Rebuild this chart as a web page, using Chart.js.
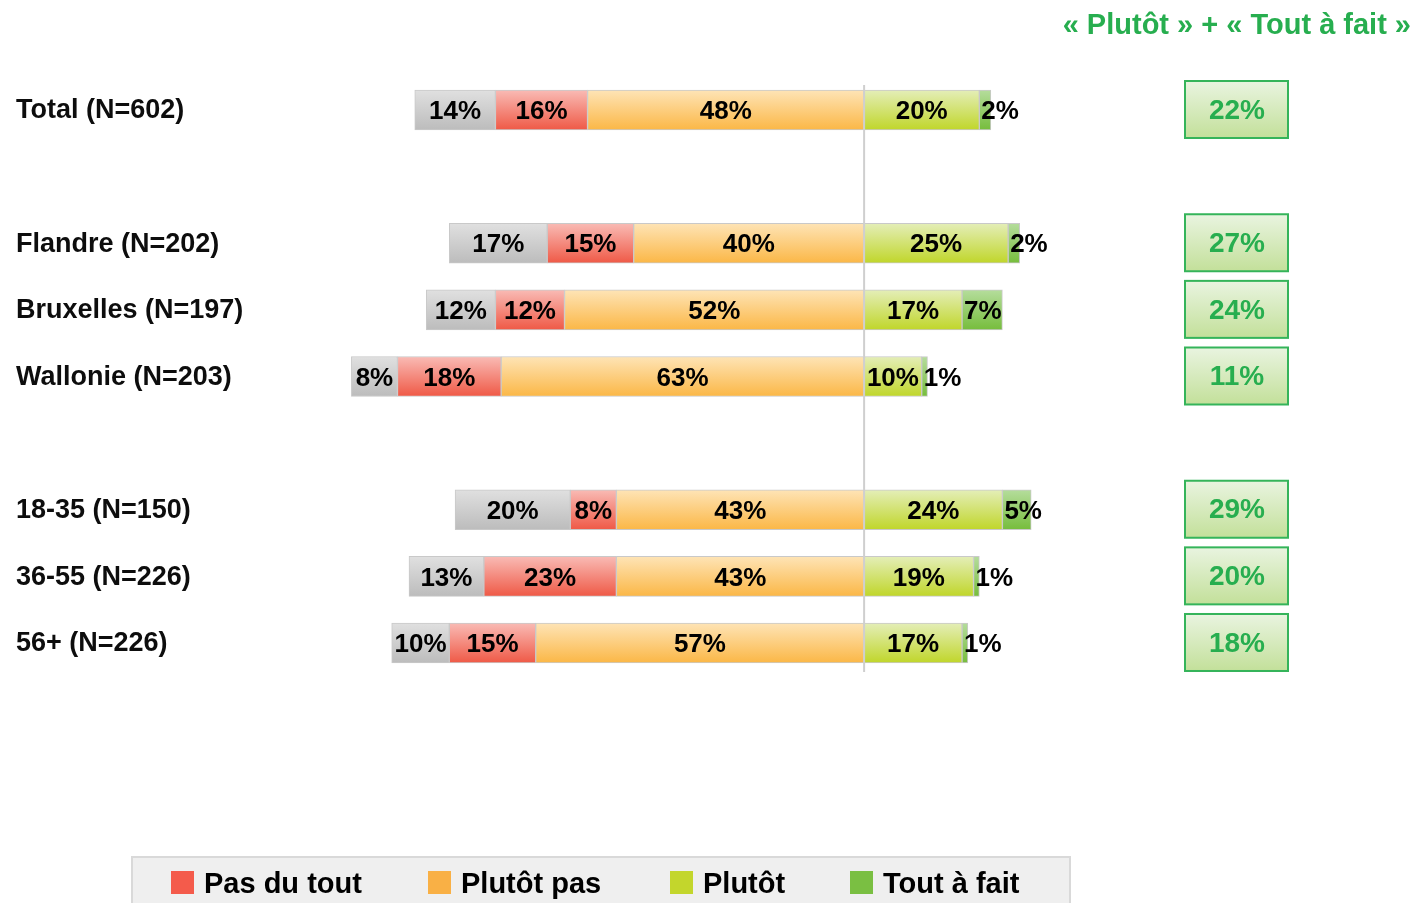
<!DOCTYPE html>
<html>
<head>
<meta charset="utf-8">
<script src="https://cdn.jsdelivr.net/npm/chart.js@4"></script>
<style>
  html, body { margin: 0; padding: 0; background: #fff; }
  #wrap { width: 1414px; height: 903px; }
</style>
</head>
<body>
<div id="wrap"><canvas id="chart" width="1414" height="903"></canvas></div>
<script>
// Rows (empty strings are spacer rows)
const categories = ['Total (N=602)', '', 'Flandre (N=202)', 'Bruxelles (N=197)', 'Wallonie (N=203)', '', '18-35 (N=150)', '36-55 (N=226)', '56+ (N=226)'];
const sansReponse = [14, null, 17, 12, 8, null, 20, 13, 10];
const pasDuTout = [16, null, 15, 12, 18, null, 8, 23, 15];
const plutotPas = [48, null, 40, 52, 63, null, 43, 43, 57];
const plutot = [20, null, 25, 17, 10, null, 24, 19, 17];
const toutAFait = [2, null, 2, 7, 1, null, 5, 1, 1];
const totalPositif = [22, null, 27, 24, 11, null, 29, 20, 18];
const headerText = '« Plutôt » + « Tout à fait »';
const legendLabels = ['Pas du tout', 'Plutôt pas', 'Plutôt', 'Tout à fait'];

const FONT = "'Liberation Sans', Arial, sans-serif";
const GREEN = '#27ae4f';

const neg = arr => arr.map(v => v == null ? null : -v);

// vertical gradient per bar, built from the y scale position
function barGradient(top, bottom) {
    return (ctx) => {
        const chart = ctx.chart;
        const y = chart.scales && chart.scales.y;
        if (!y || ctx.dataIndex == null) return bottom;
        const cy = y.getPixelForValue(ctx.dataIndex);
        if (!isFinite(cy)) return bottom;
        const g = chart.ctx.createLinearGradient(0, cy - 20, 0, cy + 20);
        g.addColorStop(0, top);
        g.addColorStop(1, bottom);
        return g;
    };
}

function makeSet(label, data, top, bottom) {
    return {
        label: label,
        data: data,
        backgroundColor: barGradient(top, bottom),
        borderColor: '#c9c9c9',
        borderWidth: 1,
        borderSkipped: false,
        barThickness: 40
    };
}

// center line + labels on the bars
const overlayPlugin = {
    id: 'overlay',
    afterDatasetsDraw(chart) {
        const ctx = chart.ctx;
        const x = chart.scales.x;
        const y = chart.scales.y;
        const cx = x.getPixelForValue(0);

        ctx.save();
        ctx.strokeStyle = '#cfcfcf';
        ctx.lineWidth = 2;
        ctx.beginPath();
        ctx.moveTo(cx, y.getPixelForValue(0) - 25);
        ctx.lineTo(cx, y.getPixelForValue(categories.length - 1) + 29);
        ctx.stroke();

        ctx.font = 'bold 26px ' + FONT;
        ctx.fillStyle = '#000';
        ctx.textBaseline = 'middle';
        ctx.textAlign = 'center';
        chart.data.datasets.forEach((ds, di) => {
            const meta = chart.getDatasetMeta(di);
            meta.data.forEach((bar, i) => {
                const v = ds.data[i];
                if (v == null) return;
                const txt = Math.abs(v) + '%';
                const w = ctx.measureText(txt).width;
                const left = Math.min(bar.x, bar.base);
                const right = Math.max(bar.x, bar.base);
                const tx = Math.max((left + right) / 2, left + 2 + w / 2);
                ctx.fillText(txt, tx, bar.y + 2);
            });
        });
        ctx.restore();
    },
    afterDraw(chart) {
        const ctx = chart.ctx;
        const y = chart.scales.y;
        ctx.save();

        // row labels
        ctx.font = 'bold 27px ' + FONT;
        ctx.fillStyle = '#0d0d0d';
        ctx.textAlign = 'left';
        ctx.textBaseline = 'middle';
        categories.forEach((c, i) => {
            if (c) ctx.fillText(c, 16, y.getPixelForValue(i) + 1);
        });

        // header
        ctx.font = 'bold 29px ' + FONT;
        ctx.fillStyle = GREEN;
        ctx.textAlign = 'right';
        ctx.fillText(headerText, 1411, 26);

        // "Plutôt + Tout à fait" boxes
        totalPositif.forEach((v, i) => {
            if (v == null) return;
            const cy = y.getPixelForValue(i) - 1;
            const top = cy - 28, h = 57;
            const g = ctx.createLinearGradient(0, top, 0, top + h);
            g.addColorStop(0, '#e9f4e0');
            g.addColorStop(1, '#c3e09a');
            ctx.fillStyle = g;
            ctx.fillRect(1185, top, 103, h);
            ctx.strokeStyle = '#35b45a';
            ctx.lineWidth = 2;
            ctx.strokeRect(1185, top, 103, h);
            ctx.font = 'bold 28px ' + FONT;
            ctx.fillStyle = GREEN;
            ctx.textAlign = 'center';
            ctx.fillText(v + '%', 1237, cy + 2);
        });

        // legend
        ctx.fillStyle = '#efefef';
        ctx.fillRect(132, 857, 938, 60);
        ctx.strokeStyle = '#d9d9d9';
        ctx.lineWidth = 2;
        ctx.strokeRect(132, 857, 938, 60);
        const legendColors = ['#f45b4b', '#f9b045', '#c3d62c', '#7abf42'];
        const boxX = [171, 428, 670, 850];
        ctx.font = 'bold 29px ' + FONT;
        ctx.textAlign = 'left';
        legendLabels.forEach((l, i) => {
            ctx.fillStyle = legendColors[i];
            ctx.fillRect(boxX[i], 871, 23, 23);
            ctx.fillStyle = '#000';
            ctx.fillText(l, boxX[i] + 33, 885);
        });
        ctx.restore();
    }
};

new Chart(document.getElementById('chart').getContext('2d'), {
    type: 'bar',
    data: {
        labels: categories,
        datasets: [
            makeSet('Plutôt pas', neg(plutotPas), '#fee4b6', '#fbb746'),
            makeSet('Pas du tout', neg(pasDuTout), '#f9bbb5', '#ef5946'),
            makeSet('Sans réponse', neg(sansReponse), '#e0e0e0', '#bcbcbc'),
            makeSet('Plutôt', plutot, '#e4eeb8', '#c0d62a'),
            makeSet('Tout à fait', toutAFait, '#b5dd9c', '#76bd3c')
        ]
    },
    options: {
        indexAxis: 'y',
        responsive: false,
        animation: false,
        layout: { padding: { left: 288, right: 89, top: 76.7, bottom: 226.7 } },
        plugins: {
            legend: { display: false },
            tooltip: { enabled: false }
        },
        scales: {
            x: { stacked: true, min: -100, max: 80, display: false },
            y: { stacked: true, display: false }
        }
    },
    plugins: [overlayPlugin]
});
</script>
</body>
</html>
